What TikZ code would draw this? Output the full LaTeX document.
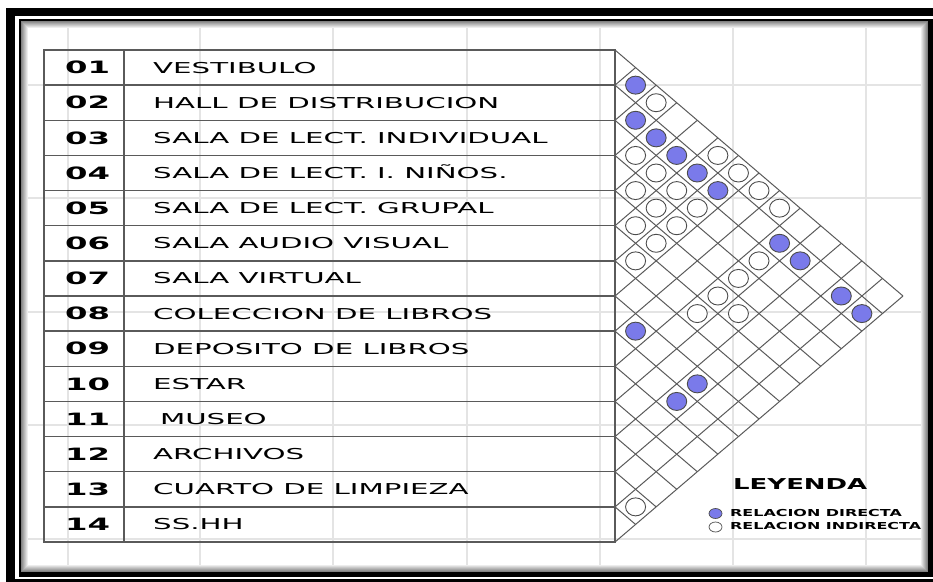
\documentclass[tikz,border=0pt]{standalone}
\usepackage{fontspec}
\usepackage{graphicx}
\usepackage{tikz}
\usetikzlibrary{shapes.geometric}
\newfontfamily\roomfont{DejaVu Sans}
\newcommand\widetext[2]{\scalebox{#1}[1]{#2}}
\definecolor{RelBlue}{RGB}{122,122,234}
\definecolor{LineGray}{RGB}{90,90,90}
\definecolor{GridGray}{RGB}{228,228,228}
\def\rh{35.143}
\def\cw{20.571}
\tikzset{
  gridline/.style={draw=GridGray, line width=1.5pt},
  tabline/.style={draw=LineGray, line width=1.4pt},
  matline/.style={draw=LineGray, line width=1pt},
  numtext/.style={anchor=west, inner sep=0pt, text height=12.4pt, text depth=0pt,
    font=\roomfont\bfseries\fontsize{17pt}{18pt}\selectfont},
  roomtext/.style={anchor=west, inner sep=0pt, text height=10.9pt, text depth=0pt,
    font=\roomfont\fontsize{15pt}{16pt}\selectfont},
  relnode/.style={ellipse, draw=black!70, line width=0.9pt, minimum width=20pt,
    minimum height=18pt, inner sep=0pt},
  directa/.style={relnode, fill=RelBlue},
  indirecta/.style={relnode, fill=white},
  keydot/.style={relnode, minimum width=13pt, minimum height=10pt, line width=0.7pt},
  keytext/.style={anchor=west, inner sep=0pt, text height=7pt, text depth=0pt,
    font=\roomfont\bfseries\fontsize{9.6pt}{10pt}\selectfont},
}

\begin{document}
\begin{tikzpicture}[x=1pt,y=-1pt]
  \useasboundingbox (0,0) rectangle (933,581);
  % frame
  \fill[black] (6,8) rectangle (940,590);
  \fill[white] (15,16) rectangle (936,579);
  \fill[black] (19,19) rectangle (933,577);
  \fill[white] (21,21) rectangle (928,572);
  \foreach \gx in {68,200,333,467,600,733,866}
    \draw[gridline] (\gx,21) -- (\gx,572);
  \foreach \gy in {85,198,312,425,539}
    \draw[gridline] (21,\gy) -- (928,\gy);
  \foreach \k [evaluate=\k as \sh using int(56-7*\k)] in {1,...,7}
    \draw[black!\sh, line width=1pt] ({20.5+\k},{20.5+\k}) rectangle ({928.5-\k},{572.5-\k});

  % table
  \draw[tabline] (44,50) rectangle (615,542);
  \draw[tabline] (124,50) -- (124,542);
  \foreach \k in {1,...,13}
    \draw[tabline] (44,{50+\k*\rh}) -- (615,{50+\k*\rh});
  \foreach \n/\room [count=\i] in {01/VESTIBULO, 02/HALL DE DISTRIBUCION,
      03/SALA DE LECT. INDIVIDUAL, 04/SALA DE LECT. I. NIÑOS.,
      05/SALA DE LECT. GRUPAL, 06/SALA AUDIO VISUAL, 07/SALA VIRTUAL,
      08/COLECCION DE LIBROS, 09/DEPOSITO DE LIBROS, 10/ESTAR,
      11/\hspace{3.5pt}MUSEO, 12/ARCHIVOS, 13/CUARTO DE LIMPIEZA, 14/SS.HH} {
    \node[numtext] (num\i) at (65,{50+(\i-0.5)*\rh}) {\widetext{1.9}{\n}};
    \node[roomtext] (room\i) at (153,{50+(\i-0.5)*\rh}) {\widetext{1.95}{\room}};
  }

  % relation matrix
  \foreach \k in {0,...,13}
    \draw[matline] (615,{50+\k*\rh}) -- ++({(14-\k)*\cw},{(14-\k)*\rh/2});
  \foreach \k in {1,...,14}
    \draw[matline] (615,{50+\k*\rh}) -- ++({\k*\cw},{-\k*\rh/2});
  \foreach \i/\j in {1/2,2/3,2/4,2/5,2/6,2/7,2/10,2/11,2/13,2/14,8/9,8/12,9/12}
    \node[directa] (d-\i-\j) at ({615+(\j-\i)*\cw},{50+(\i+\j-1)/2*\rh}) {};
  \foreach \i/\j in {1/3,1/6,1/7,1/8,1/9,3/4,3/5,3/6,3/7,3/10,4/5,4/6,4/7,4/10,
      5/6,5/7,5/10,5/11,6/7,6/10,13/14}
    \node[indirecta] (r-\i-\j) at ({615+(\j-\i)*\cw},{50+(\i+\j-1)/2*\rh}) {};

  % legend
  \node[anchor=west, inner sep=0pt, text height=11pt, text depth=0pt,
    font=\roomfont\bfseries\fontsize{15pt}{16pt}\selectfont] (leyenda) at (733,483.5)
    {\widetext{1.73}{LEYENDA}};
  \node[keydot, fill=RelBlue] (keyd) at (715.5,513.5) {};
  \node[keydot, fill=white] (keyi) at (715.5,527) {};
  \node[keytext] (keydtext) at (730,512.5) {\widetext{1.66}{RELACION DIRECTA}};
  \node[keytext] (keyitext) at (730,525.5) {\widetext{1.66}{RELACION INDIRECTA}};
\end{tikzpicture}
\end{document}
